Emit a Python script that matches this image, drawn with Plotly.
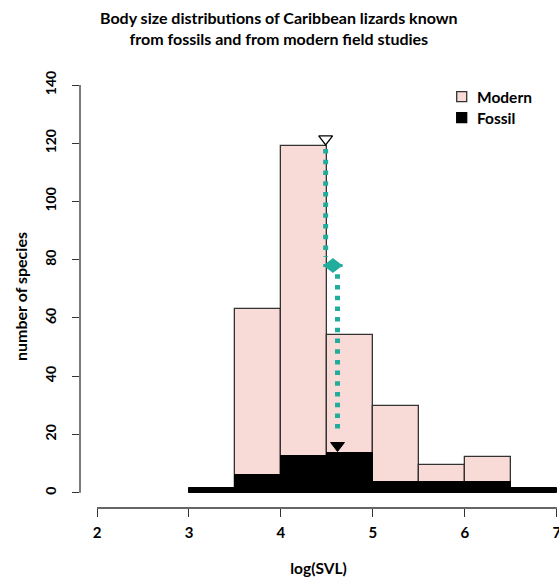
import plotly.graph_objects as go

# ---------------- data ----------------
modern_bin_left = [3.5, 4.0, 4.5, 5.0, 5.5, 6.0]
modern_counts = [63, 119, 54, 29.6, 9.6, 12.2]
fossil_bin_left = [3.0, 3.5, 4.0, 4.5, 5.0, 5.5, 6.0, 6.5]
fossil_counts = [1.7, 6, 12.5, 13.7, 3.8, 3.8, 3.8, 1.7]
bin_width = 0.5

modern_mean = 4.486
fossil_mean = 4.615
modern_marker_y = 121.5
fossil_marker_y = 16.2
shift_y = 78
modern_line_y = [118, 81]
fossil_line_y = [75, 20]
arrow_tips = [4.46, 4.67]

x_ticks = [2, 3, 4, 5, 6, 7]
y_ticks = [0, 20, 40, 60, 80, 100, 120, 140]

PINK = "#F8DAD6"
TEAL = "#20AD9C"
DARK = "#333333"
FONT = "Lato"

W, H = 559, 579
ML, MR, MT, MB = 80, 2, 85, 71
PW, PH = W - ML - MR, H - MT - MB
XPX = 92.0  # px per x unit


def px(x):  # screen pixel -> paper
    return (x - ML) / PW


def py(y):
    return (H - MB - y) / PH


fig = go.Figure()

fig.add_trace(go.Bar(
    x=modern_bin_left, y=modern_counts, width=bin_width, offset=0,
    marker=dict(color=PINK, line=dict(color=DARK, width=1.3)),
    name="Modern", showlegend=False))
fig.add_trace(go.Bar(
    x=fossil_bin_left, y=fossil_counts, width=bin_width, offset=0,
    marker=dict(color="black", line=dict(color="black", width=1)),
    name="Fossil", showlegend=False))

# dotted guide lines
DOT = dict(color=TEAL, width=5, dash="4.5px,6.2px")
fig.add_trace(go.Scatter(x=[modern_mean, modern_mean], y=modern_line_y,
                         mode="lines", line=DOT, showlegend=False))
fig.add_trace(go.Scatter(x=[fossil_mean, fossil_mean], y=fossil_line_y,
                         mode="lines", line=DOT, showlegend=False))

# double-headed shift arrow (two heads back to back)
HEAD = 13
fig.add_trace(go.Scatter(x=arrow_tips, y=[shift_y, shift_y], mode="lines",
                         line=dict(color=TEAL, width=3), showlegend=False))
fig.add_trace(go.Scatter(
    x=[arrow_tips[0] + HEAD / 2 / XPX, arrow_tips[1] - HEAD / 2 / XPX],
    y=[shift_y, shift_y], mode="markers",
    marker=dict(symbol=["triangle-left", "triangle-right"], size=HEAD,
                color=TEAL, line=dict(width=0)), showlegend=False))

# mean markers
fig.add_trace(go.Scatter(
    x=[modern_mean], y=[modern_marker_y], mode="markers",
    marker=dict(symbol="triangle-down", size=12, color="white",
                line=dict(color="black", width=1.3)), showlegend=False))
fig.add_trace(go.Scatter(
    x=[fossil_mean], y=[fossil_marker_y], mode="markers",
    marker=dict(symbol="triangle-down", size=12, color="black",
                line=dict(color="black", width=1)), showlegend=False))

# axis lines (detached, R style)
fig.add_shape(type="line", xref="x", yref="paper", x0=x_ticks[0], x1=x_ticks[-1],
              y0=0, y1=0, line=dict(color=DARK, width=1.3))
fig.add_shape(type="line", xref="paper", yref="y", x0=0, x1=0,
              y0=y_ticks[0], y1=y_ticks[-1], line=dict(color=DARK, width=1.3))

# legend
leg = [("Modern", PINK, DARK, 96.7), ("Fossil", "black", "black", 117.7)]
for name, fill, edge, cy in leg:
    fig.add_shape(type="rect", xref="paper", yref="paper",
                  x0=px(456.7), x1=px(466.7), y0=py(cy + 5), y1=py(cy - 5),
                  fillcolor=fill, line=dict(color=edge, width=1.3))
    fig.add_annotation(xref="paper", yref="paper", x=px(475), y=py(cy),
                       xanchor="left", yanchor="middle", showarrow=False,
                       text=f"<b>{name}</b>",
                       font=dict(family=FONT, size=15.5, color="black"))

# title
fig.add_annotation(
    xref="paper", yref="paper", x=px(279), y=py(28),
    xanchor="center", yanchor="middle", showarrow=False,
    text="<b>Body size distributions of Caribbean lizards known<br>from fossils and from modern field studies</b>",
    font=dict(family=FONT, size=16, color="black"))

fig.update_layout(
    width=W, height=H,
    margin=dict(l=ML, r=MR, t=MT, b=MB, autoexpand=False),
    plot_bgcolor="white", paper_bgcolor="white",
    barmode="overlay", bargap=0,
    font=dict(family=FONT, color="black"),
    xaxis=dict(range=[2 - 17 / XPX, 7.001], tickvals=x_ticks,
               ticktext=[f"<b>{v}</b>" for v in x_ticks],
               ticks="outside", ticklen=8, tickwidth=1.3, tickcolor=DARK,
               showgrid=False, zeroline=False, showline=False,
               tickfont=dict(family=FONT, size=15, color="black"),
               ticklabelstandoff=3, ticklabeloverflow="allow",
               title=dict(text="<b>log(SVL)</b>", standoff=23,
                          font=dict(family=FONT, size=15.5, color="black"))),
    yaxis=dict(range=[140 - PH / 2.912, 140.01], tickvals=y_ticks,
               ticktext=[f"<b>{v}</b>" for v in y_ticks], tickangle=-90,
               ticks="outside", ticklen=7, tickwidth=1.3, tickcolor=DARK,
               showgrid=False, zeroline=False, showline=False,
               tickfont=dict(family=FONT, size=14, color="black"),
               ticklabelstandoff=10,
               title=dict(text="<b>number of species</b>", standoff=10,
                          font=dict(family=FONT, size=16, color="black"))),
)

# remove the default page margin so the figure fills the window exactly
fig.write_html(
    "out.html",
    config={"displayModeBar": False},
    post_script="document.body.style.margin='0';document.body.style.overflow='hidden';",
)
